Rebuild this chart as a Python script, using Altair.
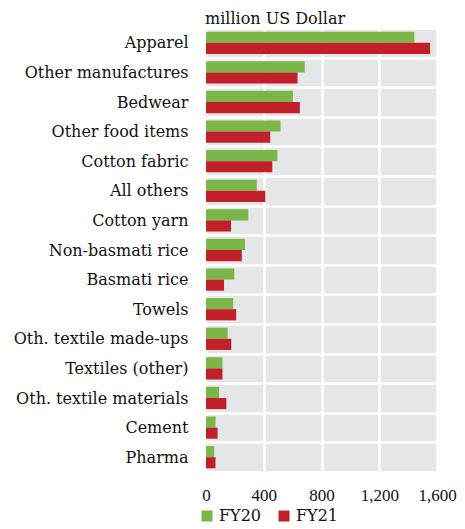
import altair as alt
import pandas as pd

categories = ["Apparel", "Other manufactures", "Bedwear", "Other food items", "Cotton fabric",
              "All others", "Cotton yarn", "Non-basmati rice", "Basmati rice", "Towels",
              "Oth. textile made-ups", "Textiles (other)", "Oth. textile materials", "Cement", "Pharma"]
fy20 = [1443, 684, 602, 516, 495, 352, 293, 270, 196, 188, 150, 114, 91, 66, 57]
fy21 = [1552, 634, 650, 445, 459, 411, 173, 248, 125, 209, 175, 114, 141, 80, 66]
series = ["FY20", "FY21"]
colors = ["#7AB648", "#C1202A"]
x_ticks = [0, 400, 800, 1200, 1600]
unit_title = ["million US Dollar"]

rows = []
for c, a, b in zip(categories, fy20, fy21):
    rows.append({"category": c, "series": "FY20", "value": a})
    rows.append({"category": c, "series": "FY21", "value": b})
df = pd.DataFrame(rows)

FONT = "DejaVu Serif"
XFONT = "Liberation Serif"
FS = 16
H = 444
W = 231

bars = alt.Chart(df).mark_bar().encode(
    y=alt.Y("category:N", sort=categories, title=None,
            scale=alt.Scale(paddingInner=0, paddingOuter=0),
            axis=alt.Axis(tickBand="extent", grid=True, gridColor="white", gridWidth=2.5,
                          ticks=False, domain=False, labelFontSize=FS, labelFont=FONT,
                          labelColor="#111", labelPadding=18, labelLimit=300)),
    yOffset=alt.YOffset("series:N", sort=series,
                        scale=alt.Scale(paddingOuter=0.33, paddingInner=0)),
    x=alt.X("value:Q", title=None,
            scale=alt.Scale(domain=[0, 1600], nice=False),
            axis=alt.Axis(values=x_ticks, format=",.0f", grid=True, gridColor="white", gridWidth=2.5,
                          ticks=False, domain=False, labelFontSize=17, labelFont=XFONT,
                          labelColor="#111", labelPadding=15, labelOverlap=False,
                          labelFlush=False)),
    color=alt.Color("series:N", sort=series,
                    scale=alt.Scale(domain=series, range=colors),
                    legend=alt.Legend(title=None, orient="none", legendX=-7, legendY=H + 36,
                                      direction="horizontal", symbolType="square",
                                      symbolSize=121, symbolStrokeWidth=0,
                                      labelFontSize=FS, labelFont=FONT, labelColor="#111",
                                      columnPadding=14, labelOffset=4)),
)

title = alt.Chart(pd.DataFrame({"t": unit_title})).mark_text(
    align="left", baseline="alphabetic", font=FONT, fontSize=FS, color="#111"
).encode(text="t:N", x=alt.value(-1), y=alt.value(-4))

chart = alt.layer(bars, title).properties(
    width=W, height=H,
    padding={"left": 5, "top": 3, "right": 0, "bottom": 0},
).configure_view(fill="#E5E6E8", strokeWidth=0)

chart.save("out.html", embed_options={"renderer": "svg", "actions": False})
